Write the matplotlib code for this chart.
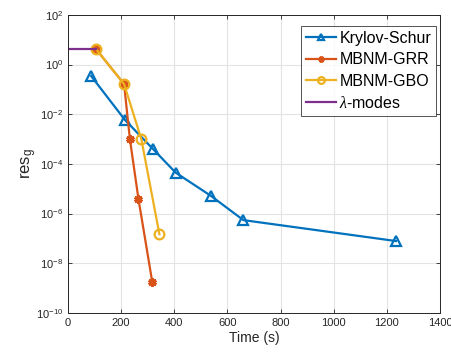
import numpy as np
import matplotlib
matplotlib.use('Agg')
import matplotlib.pyplot as plt

plt.rcParams['font.family'] = ['Liberation Sans', 'DejaVu Sans']
plt.rcParams['mathtext.fontset'] = 'custom'
plt.rcParams['mathtext.rm'] = 'Liberation Sans'
plt.rcParams['mathtext.it'] = 'Liberation Serif:italic'

# data
ks_t = [87, 214, 321, 405, 538, 660, 1234]
ks_res = [0.35, 6e-3, 3.9e-4, 4.5e-5, 5.2e-6, 5.5e-7, 7.9e-8]

grr_t = [105, 211, 233, 265, 317]
grr_res = [4.3, 0.166, 1.0e-3, 4.0e-6, 1.8e-9]

gbo_t = [105, 211, 276, 344]
gbo_res = [4.3, 0.166, 1.0e-3, 1.5e-7]

lm_t = [0, 105]
lm_res = [4.3, 4.3]

xticks = [0, 200, 400, 600, 800, 1000, 1200, 1400]
yexp = [2, 0, -2, -4, -6, -8, -10]

blue = '#0072BD'
red = '#D95319'
yel = '#EDB120'
purp = '#7E2F8E'

fig = plt.figure(figsize=(4.51, 3.53), dpi=100)
ax = fig.add_axes([68/451, 1-313/353, 372/451, 298/353])

ax.semilogy(ks_t, ks_res, '-', color=blue, lw=1.6, marker='^', ms=7,
            mfc='none', mew=1.6, label='Krylov-Schur')
ax.semilogy(grr_t, grr_res, '-', color=red, lw=1.6, marker=(6, 2, 0), ms=6,
            mew=2.2, label='MBNM-GRR')
ax.semilogy(gbo_t, gbo_res, '-', color=yel, lw=1.6, marker='o', ms=7,
            mfc='none', mew=1.6, label='MBNM-GBO')
ax.semilogy(lm_t, lm_res, '-', color=purp, lw=1.6, label=r'$\lambda$-modes')

ax.set_xlim(0, 1400)
ax.set_ylim(1e-10, 1e2)
ax.set_xticks(xticks)
ax.set_xticklabels([str(v) for v in xticks])
ax.set_yticks([10.0**e for e in yexp])
ax.set_yticklabels([r'$10^{%d}$' % e for e in yexp])
ax.minorticks_off()
ax.tick_params(which='both', direction='in', top=True, right=True,
               labelsize=8, colors='#262626', length=3, width=0.6)
ax.grid(True, color='#e3e3e3', lw=0.8)
ax.set_axisbelow(True)
for s in ax.spines.values():
    s.set_color('#262626')
    s.set_linewidth(0.7)

ax.set_xlabel('Time (s)', fontsize=10, color='#262626', labelpad=2)
ax.set_ylabel(r'res$_\mathrm{g}$', fontsize=12, color='#262626', labelpad=-2)

leg = ax.legend(loc='upper right', bbox_to_anchor=(436/451, 1-26/353),
                bbox_transform=fig.transFigure, fontsize=11.5, frameon=True,
                fancybox=False, edgecolor='#262626', handlelength=1.9,
                handletextpad=0.2, borderpad=0.3, labelspacing=0.4,
                borderaxespad=0, markerscale=0.7)
leg.get_frame().set_linewidth(0.7)

fig.savefig('out.png', dpi=100)
